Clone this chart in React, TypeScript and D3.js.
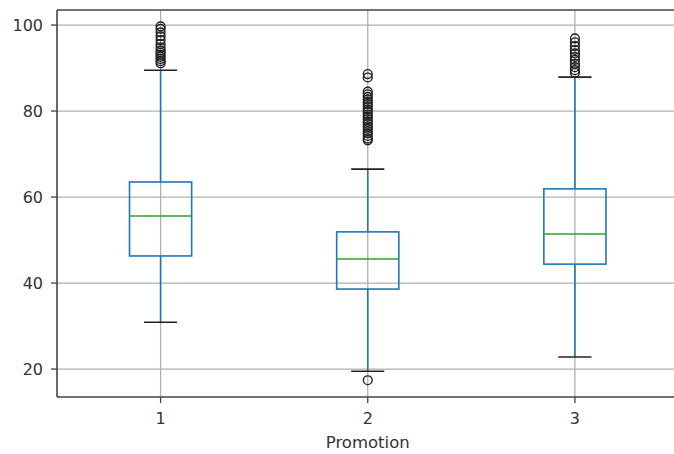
import React from "react";
import * as d3 from "d3";

const promotions = [1, 2, 3];
const whiskerLow = [30.9, 19.5, 22.8];
const q1 = [46.3, 38.6, 44.4];
const medians = [55.6, 45.6, 51.4];
const q3 = [63.5, 51.9, 61.9];
const whiskerHigh = [89.5, 66.5, 87.9];
const outliers1 = [99.7, 99.1, 98.3, 97.4, 96.5, 95.6, 94.8, 94.1, 93.6, 93.1, 92.6, 92.1, 91.6, 91.1];
const outliers2 = [
  88.6, 87.8, 84.5, 83.9, 83.3, 82.7, 82.1, 81.6, 81.0, 80.4, 79.8, 79.2, 78.7, 78.1, 77.5, 77.0,
  76.4, 75.9, 75.3, 74.8, 74.2, 73.6, 73.2, 17.4,
];
const outliers3 = [96.9, 96.0, 95.1, 94.2, 93.4, 92.6, 91.9, 91.0, 90.2, 89.5, 88.9];
const outliers = [outliers1, outliers2, outliers3];
const yTicks = [20, 40, 60, 80, 100];

const W = 674;
const H = 454;
const left = 57;
const top = 10;
const bottom = 397;
const right = 678.5;

export default function App() {
  const x = d3.scaleLinear().domain([0.5, 3.5]).range([left, right]);
  const y = d3.scaleLinear().domain([13.5, 103.5]).range([bottom, top]);
  const boxHalf = (x(1.15) - x(1));
  const capHalf = (x(1.08) - x(1));
  const font = "'DejaVu Sans', sans-serif";
  const gridColor = "#b0b0b0";

  return (
    <svg
      width={W}
      height={H}
      style={{ position: "absolute", left: 0, top: 0, background: "#fff" }}
      fontFamily={font}
    >
      {/* grid */}
      {yTicks.map(t => (
        <line key={`gy${t}`} x1={left} x2={right} y1={y(t)} y2={y(t)} stroke={gridColor} strokeWidth={1.3} />
      ))}
      {promotions.map(p => (
        <line key={`gx${p}`} x1={x(p)} x2={x(p)} y1={top} y2={bottom} stroke={gridColor} strokeWidth={1.3} />
      ))}

      {promotions.map((p, i) => {
        const cx = x(p);
        return (
          <g key={p}>
            <line x1={cx} x2={cx} y1={y(q3[i])} y2={y(whiskerHigh[i])} stroke="#1f77b4" strokeWidth={1.6} />
            <line x1={cx} x2={cx} y1={y(q1[i])} y2={y(whiskerLow[i])} stroke="#1f77b4" strokeWidth={1.6} />
            <line x1={cx - capHalf} x2={cx + capHalf} y1={y(whiskerHigh[i])} y2={y(whiskerHigh[i])} stroke="#222" strokeWidth={1.6} />
            <line x1={cx - capHalf} x2={cx + capHalf} y1={y(whiskerLow[i])} y2={y(whiskerLow[i])} stroke="#222" strokeWidth={1.6} />
            <rect
              x={cx - boxHalf}
              y={y(q3[i])}
              width={boxHalf * 2}
              height={y(q1[i]) - y(q3[i])}
              fill="none"
              stroke="#1f77b4"
              strokeWidth={1.6}
            />
            <line x1={cx - boxHalf} x2={cx + boxHalf} y1={y(medians[i])} y2={y(medians[i])} stroke="#2ca02c" strokeWidth={1.6} />
            {outliers[i].map((v, j) => (
              <circle key={j} cx={cx} cy={y(v)} r={4.4} fill="none" stroke="#222" strokeWidth={1.4} />
            ))}
          </g>
        );
      })}

      {/* spines */}
      <line x1={left} x2={left} y1={top} y2={bottom} stroke="#444" strokeWidth={1.6} />
      <line x1={left} x2={right} y1={top} y2={top} stroke="#444" strokeWidth={1.6} />
      <line x1={left} x2={right} y1={bottom} y2={bottom} stroke="#444" strokeWidth={1.6} />

      {/* y axis */}
      {yTicks.map(t => (
        <g key={`yt${t}`}>
          <line x1={left - 6} x2={left} y1={y(t)} y2={y(t)} stroke="#444" strokeWidth={1.3} />
          <text x={left - 14} y={y(t)} textAnchor="end" dominantBaseline="central" fontSize={16} fill="#333">
            {t}
          </text>
        </g>
      ))}

      {/* x axis */}
      {promotions.map(p => (
        <g key={`xt${p}`}>
          <line x1={x(p)} x2={x(p)} y1={bottom} y2={bottom + 6} stroke="#444" strokeWidth={1.3} />
          <text x={x(p)} y={424} textAnchor="middle" fontSize={16} fill="#333">
            {p}
          </text>
        </g>
      ))}
      <text x={x(2)} y={448} textAnchor="middle" fontSize={16.5} fill="#333">
        Promotion
      </text>
    </svg>
  );
}
